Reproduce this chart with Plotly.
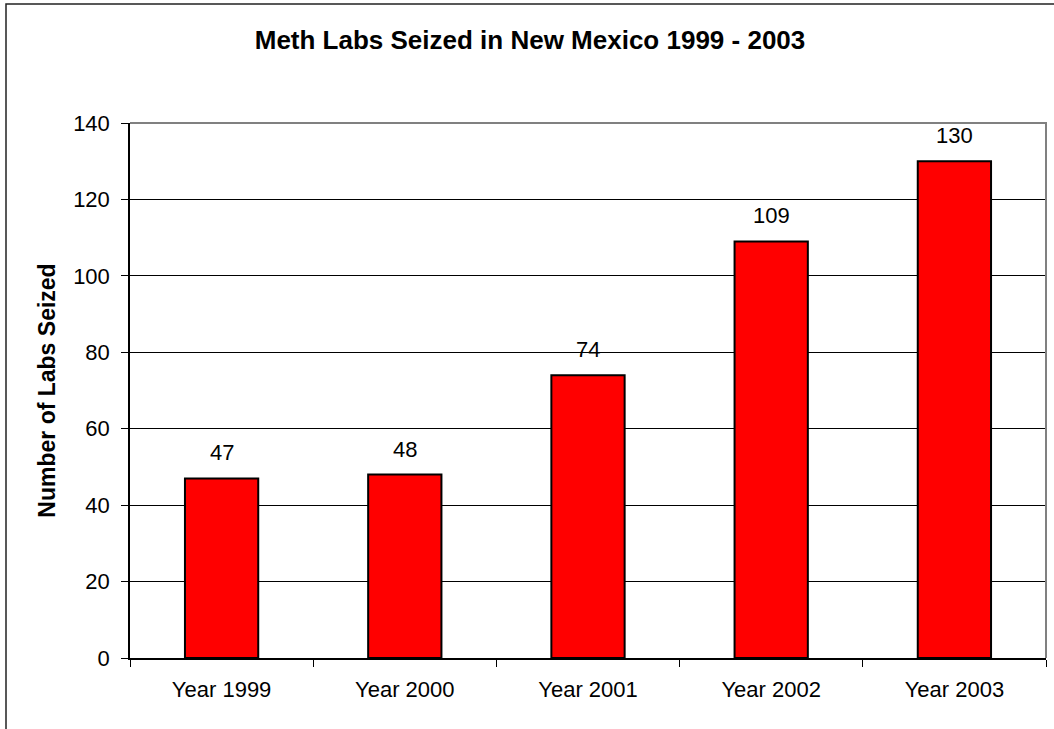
import plotly.graph_objects as go

categories = ["Year 1999", "Year 2000", "Year 2001", "Year 2002", "Year 2003"]
labs_seized = [47, 48, 74, 109, 130]
y_ticks = [0, 20, 40, 60, 80, 100, 120, 140]

FONT = "Liberation Sans, Arial, sans-serif"

fig = go.Figure()
fig.add_trace(go.Bar(
    x=categories, y=labs_seized,
    marker=dict(color="#FF0000", line=dict(color="black", width=2)),
    width=0.4,
    hoverinfo="skip",
))

for c, v in zip(categories, labs_seized):
    fig.add_annotation(x=c, y=v, text=str(v), showarrow=False,
                       yanchor="bottom", yshift=11,
                       font=dict(family=FONT, size=22, color="black"))

# top/right gray plot border
fig.add_shape(type="path", path="M 0,1 L 1,1 L 1,0", xref="paper", yref="paper",
              line=dict(color="#808080", width=2), layer="above")
# outer chart frame
fig.add_shape(type="rect", xref="paper", yref="paper",
              x0=(6 - 130) / 916, x1=1.1, y0=-0.3, y1=(658 - 4) / 535,
              line=dict(color="#222222", width=1.5), layer="below")

fig.update_layout(
    width=1054, height=729,
    margin=dict(l=130, r=8, t=123, b=71),
    paper_bgcolor="white", plot_bgcolor="white",
    showlegend=False,
    title=dict(text="<b>Meth Labs Seized in New Mexico 1999 - 2003</b>",
               x=530 / 1054, xanchor="center", y=1 - 40 / 729, yanchor="middle",
               font=dict(family=FONT, size=26, color="black")),
    font=dict(family=FONT, size=22, color="black"),
    bargap=0.6,
)
fig.update_xaxes(
    type="category", showline=True, linecolor="black", linewidth=1.5,
    ticks="outside", tickson="boundaries", ticklen=7, tickcolor="black",
    tickfont=dict(family=FONT, size=22, color="black"),
    ticklabelstandoff=11,
    showgrid=False,
)
fig.update_yaxes(
    range=[0, 140], tickvals=y_ticks, showline=True, linecolor="black", linewidth=1.5,
    ticks="outside", ticklen=7, tickcolor="black",
    showgrid=True, gridcolor="black", gridwidth=1,
    zeroline=False,
    tickfont=dict(family=FONT, size=22, color="black"),
    ticklabelstandoff=7,
    title=dict(text="<b>Number of Labs Seized</b>", standoff=11,
               font=dict(family=FONT, size=23, color="black")),
)

fig.write_html("out.html")
